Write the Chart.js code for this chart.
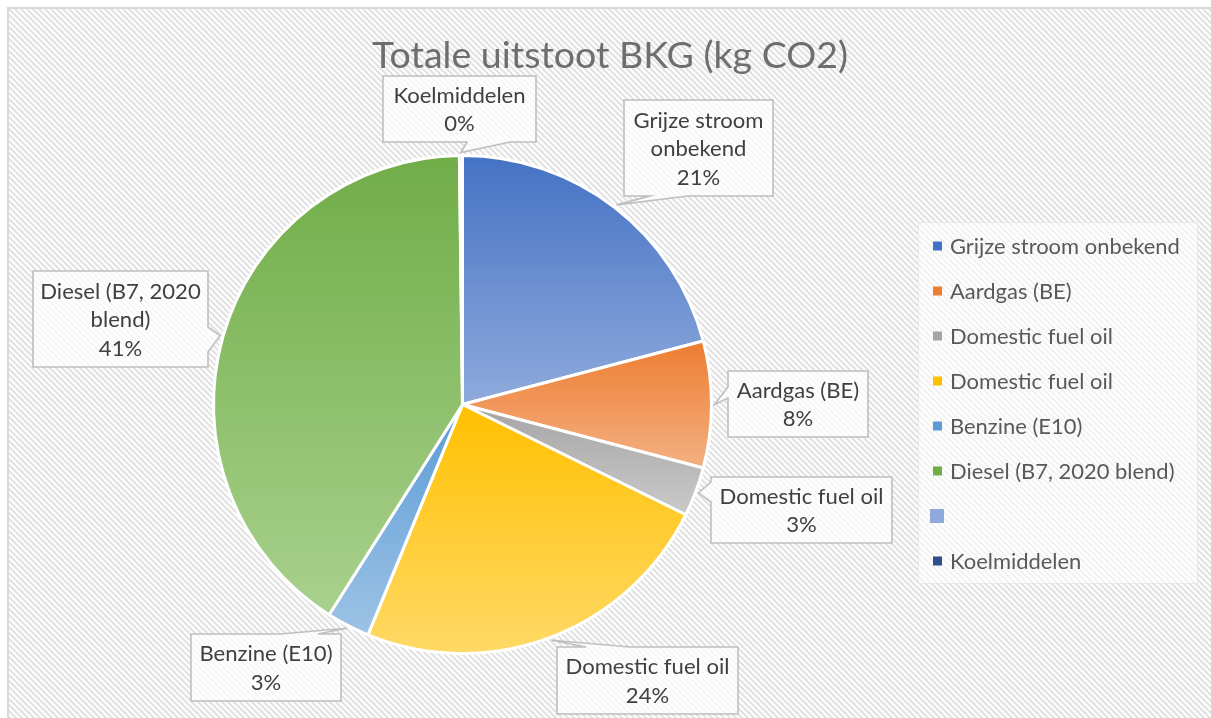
<!DOCTYPE html>
<html><head><meta charset="utf-8">
<script src="https://cdn.jsdelivr.net/npm/chart.js@4.4.1/dist/chart.umd.min.js"></script>
<style>html,body{margin:0;padding:0;background:#fff;overflow:hidden}canvas{display:block}</style>
</head><body>
<canvas id="c" width="1211" height="718"></canvas>
<script>
// ---- data ----
const chartTitle = 'Totale uitstoot BKG (kg CO2)';
const categories = ['Grijze stroom onbekend', 'Aardgas (BE)', 'Domestic fuel oil', 'Domestic fuel oil', 'Benzine (E10)', 'Diesel (B7, 2020 blend)', '', 'Koelmiddelen'];
const values = [20.9, 8.2, 3.2, 23.9, 2.8, 40.8, 0, 0.2];
const calloutNames = [['Grijze stroom', 'onbekend'], ['Aardgas (BE)'], ['Domestic fuel oil'], ['Domestic fuel oil'], ['Benzine (E10)'], ['Diesel (B7, 2020', 'blend)'], null, ['Koelmiddelen']];

// ---- styles ----
const darkColors  = ['#4472C4', '#ED7D31', '#A5A5A5', '#FFC000', '#5B9BD5', '#70AD47', '#8EA9DB', '#264478'];
const lightColors = ['#8FAADC', '#F4B183', '#CACACA', '#FFD966', '#9DC3E6', '#A9D18E', '#B4C7E7', '#6F8DC4'];
const legendColors = ['#4472C4', '#ED7D31', '#A5A5A5', '#FFC000', '#5B9BD5', '#70AD47', '#8EA9DB', '#2F4F8F'];
const FONT = 'Lato, Carlito, "Open Sans", sans-serif';

// callout boxes (layout only); tips are computed from the slices
const calloutBoxes = [
  {x1: 624, y1: 100, x2: 773, y2: 196, edge: 'bottom', b1: 650, b2: 688},
  {x1: 728, y1: 371, x2: 868, y2: 437, edge: 'left', b1: 387, b2: 398},
  {x1: 711, y1: 477, x2: 892, y2: 543, edge: 'left', b1: 482, b2: 502},
  {x1: 557, y1: 647, x2: 738, y2: 714, edge: 'top', b1: 586, b2: 630},
  {x1: 191, y1: 634, x2: 341, y2: 701, edge: 'top', b1: 280, b2: 318},
  {x1: 33, y1: 271, x2: 208, y2: 367, edge: 'right', b1: 327, b2: 352},
  null,
  {x1: 383, y1: 76, x2: 536, y2: 142, edge: 'bottom', b1: 467, b2: 510}
];

function fitSize(ctx, text, target, weight) {
  ctx.font = (weight || '') + ' 100px ' + FONT;
  return 100 * target / ctx.measureText(text).width;
}

function makePattern(ctx) {
  const s = 6;
  const c = document.createElement('canvas');
  c.width = s; c.height = s;
  const p = c.getContext('2d');
  p.fillStyle = '#ffffff'; p.fillRect(0, 0, s, s);
  p.strokeStyle = '#e2e2e2'; p.lineWidth = 2.2;
  p.beginPath();
  p.moveTo(-s, -s); p.lineTo(2 * s, 2 * s);
  p.moveTo(-s, 0); p.lineTo(s, 2 * s);
  p.moveTo(0, -s); p.lineTo(2 * s, s);
  p.stroke();
  return ctx.createPattern(c, 'repeat');
}

const backgroundPlugin = {
  id: 'bg',
  beforeDraw(chart) {
    const ctx = chart.ctx;
    ctx.save();
    ctx.fillStyle = '#fff';
    ctx.fillRect(0, 0, chart.width, chart.height);
    ctx.fillStyle = makePattern(ctx);
    ctx.fillRect(8, 8, chart.width - 8, chart.height - 8);
    ctx.strokeStyle = '#d9d9d9'; ctx.lineWidth = 2;
    ctx.beginPath();
    ctx.moveTo(8, chart.height); ctx.lineTo(8, 8); ctx.lineTo(chart.width, 8);
    ctx.stroke();
    // legend panel
    ctx.fillStyle = 'rgba(255,255,255,0.55)';
    ctx.fillRect(918, 222, 279, 361);
    ctx.strokeStyle = 'rgba(230,230,230,0.8)'; ctx.lineWidth = 1;
    ctx.strokeRect(918.5, 222.5, 279, 361);
    ctx.restore();
  }
};

const gradientPlugin = {
  id: 'grad',
  beforeDatasetsDraw(chart) {
    const ctx = chart.ctx;
    const meta = chart.getDatasetMeta(0);
    meta.data.forEach((el, i) => {
      const {x, y, startAngle, endAngle, outerRadius: r} = el.getProps(['x', 'y', 'startAngle', 'endAngle', 'outerRadius']);
      const ys = [y, y + r * Math.sin(startAngle), y + r * Math.sin(endAngle)];
      const contains = a => { let t = a; while (t < startAngle) t += 2 * Math.PI; return t <= endAngle; };
      if (contains(-Math.PI / 2)) ys.push(y - r);
      if (contains(Math.PI / 2)) ys.push(y + r);
      const y0 = Math.min(...ys), y1 = Math.max(...ys);
      const g = ctx.createLinearGradient(0, y0, 0, Math.max(y1, y0 + 1));
      g.addColorStop(0, darkColors[i]);
      g.addColorStop(1, lightColors[i]);
      el.options = Object.assign({}, el.options, {backgroundColor: g});
    });
  }
};

const calloutPlugin = {
  id: 'callouts',
  afterDatasetsDraw(chart) {
    const ctx = chart.ctx;
    const meta = chart.getDatasetMeta(0);
    const total = values.reduce((a, b) => a + b, 0);
    const size = fitSize(ctx, 'Domestic fuel oil', 164);
    ctx.save();
    meta.data.forEach((el, i) => {
      const box = calloutBoxes[i];
      if (!box || !calloutNames[i]) return;
      const {x, y, startAngle, endAngle, outerRadius: r} = el.getProps(['x', 'y', 'startAngle', 'endAngle', 'outerRadius']);
      const mid = (startAngle + endAngle) / 2;
      const tx = x + (r + 3) * Math.cos(mid), ty = y + (r + 3) * Math.sin(mid);
      const {x1, y1, x2, y2, edge, b1, b2} = box;
      let pts;
      if (edge === 'bottom') pts = [[x1, y1], [x2, y1], [x2, y2], [b2, y2], [tx, ty], [b1, y2], [x1, y2]];
      else if (edge === 'top') pts = [[x1, y1], [b1, y1], [tx, ty], [b2, y1], [x2, y1], [x2, y2], [x1, y2]];
      else if (edge === 'left') pts = [[x1, y1], [x2, y1], [x2, y2], [x1, y2], [x1, b2], [tx, ty], [x1, b1]];
      else pts = [[x1, y1], [x2, y1], [x2, b1], [tx, ty], [x2, b2], [x2, y2], [x1, y2]];
      ctx.beginPath();
      pts.forEach((p, k) => k ? ctx.lineTo(p[0], p[1]) : ctx.moveTo(p[0], p[1]));
      ctx.closePath();
      ctx.fillStyle = 'rgba(255,255,255,0.72)';
      ctx.fill();
      ctx.strokeStyle = '#bfbfbf'; ctx.lineWidth = 1.6;
      ctx.stroke();
      const lines = calloutNames[i].concat([Math.round(values[i] / total * 100) + '%']);
      const lh = 28.5;
      const cy = (y1 + y2) / 2 + 1;
      ctx.fillStyle = '#404040';
      ctx.font = size.toFixed(2) + 'px ' + FONT;
      ctx.textAlign = 'center'; ctx.textBaseline = 'middle';
      lines.forEach((t, k) => {
        ctx.fillText(t, (x1 + x2) / 2, cy + (k - (lines.length - 1) / 2) * lh);
      });
    });
    ctx.restore();
  },
  afterDraw(chart) {
    const ctx = chart.ctx;
    ctx.save();
    // title
    const ts = fitSize(ctx, chartTitle, 476);
    ctx.font = ts.toFixed(2) + 'px ' + FONT;
    ctx.fillStyle = '#6e6e6e';
    ctx.textAlign = 'center'; ctx.textBaseline = 'alphabetic';
    ctx.fillText(chartTitle, 610, 68);
    // legend
    const ls = fitSize(ctx, 'Domestic fuel oil', 163);
    ctx.font = ls.toFixed(2) + 'px ' + FONT;
    ctx.textAlign = 'left'; ctx.textBaseline = 'middle';
    categories.forEach((name, i) => {
      const yy = 246 + i * 45;
      ctx.fillStyle = legendColors[i];
      if (name === '') ctx.fillRect(930, yy - 7, 14, 14);
      else ctx.fillRect(933, yy - 4.5, 9, 9);
      ctx.fillStyle = '#595959';
      ctx.fillText(name, 950, yy + 1);
    });
    ctx.restore();
  }
};

new Chart(document.getElementById('c'), {
  type: 'pie',
  data: {
    labels: categories,
    datasets: [{
      data: values,
      backgroundColor: darkColors,
      borderColor: '#ffffff',
      borderWidth: 3,
      radius: 249
    }]
  },
  options: {
    responsive: false,
    animation: false,
    events: [],
    layout: {padding: {left: 212.5, right: 498.5, top: 154.5, bottom: 63.5}},
    plugins: {legend: {display: false}, tooltip: {enabled: false}, title: {display: false}}
  },
  plugins: [backgroundPlugin, gradientPlugin, calloutPlugin]
});
</script>
</body></html>
